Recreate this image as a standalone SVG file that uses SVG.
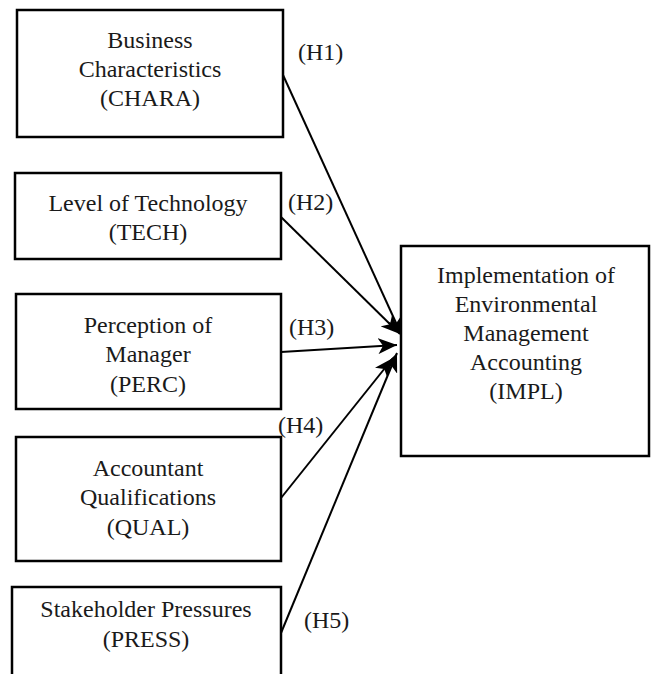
<svg xmlns="http://www.w3.org/2000/svg" width="651" height="674" viewBox="0 0 651 674">
  <style>
    .box { fill: #ffffff; stroke: #000000; stroke-width: 2.5; }
    .lbl { font-family: "Liberation Serif", "Times New Roman", serif; font-size: 24px; fill: #1a1a1a; text-anchor: middle; }
    .hyp { font-family: "Liberation Serif", "Times New Roman", serif; font-size: 24px; fill: #1a1a1a; }
    .edge { stroke: #000000; stroke-width: 2; fill: none; marker-end: url(#arrow); }
  </style>
  <defs>
    <marker id="arrow" markerUnits="userSpaceOnUse" markerWidth="20" markerHeight="16" refX="19" refY="8" orient="auto">
      <path d="M0,0 L19,8 L0,16 L5,8 z" fill="#000000"/>
    </marker>
  </defs>
  <rect width="651" height="674" fill="#ffffff"/>

  <!-- connectors: hypotheses H1..H5 -->
  <g id="connectors">
    <line class="edge" x1="283" y1="75" x2="402" y2="336"/>
    <line class="edge" x1="281" y1="217" x2="400" y2="334"/>
    <line class="edge" x1="281" y1="352" x2="397" y2="345"/>
    <line class="edge" x1="281" y1="498" x2="393" y2="358"/>
    <line class="edge" x1="281" y1="633" x2="397" y2="353"/>
    <text class="hyp" x="298" y="60">(H1)</text>
    <text class="hyp" x="288" y="210">(H2)</text>
    <text class="hyp" x="289" y="335">(H3)</text>
    <text class="hyp" x="278" y="433">(H4)</text>
    <text class="hyp" x="304" y="628">(H5)</text>
  </g>

  <g id="chara">
    <rect class="box" x="17" y="10" width="266" height="127"/>
    <text class="lbl" x="150" y="48">Business</text>
    <text class="lbl" x="150" y="77">Characteristics</text>
    <text class="lbl" x="150" y="106">(CHARA)</text>
  </g>

  <g id="tech">
    <rect class="box" x="15" y="173" width="266" height="86"/>
    <text class="lbl" x="148" y="211">Level of Technology</text>
    <text class="lbl" x="148" y="240">(TECH)</text>
  </g>

  <g id="perc">
    <rect class="box" x="16" y="294" width="265" height="115"/>
    <text class="lbl" x="148" y="333">Perception of</text>
    <text class="lbl" x="148" y="362">Manager</text>
    <text class="lbl" x="148" y="392">(PERC)</text>
  </g>

  <g id="qual">
    <rect class="box" x="16" y="437" width="265" height="124"/>
    <text class="lbl" x="148" y="476">Accountant</text>
    <text class="lbl" x="148" y="505">Qualifications</text>
    <text class="lbl" x="148" y="535">(QUAL)</text>
  </g>

  <g id="press">
    <rect class="box" x="12" y="587" width="269" height="110"/>
    <text class="lbl" x="146" y="617">Stakeholder Pressures</text>
    <text class="lbl" x="146" y="647">(PRESS)</text>
  </g>

  <g id="impl">
    <rect class="box" x="401" y="246" width="248" height="210"/>
    <text class="lbl" x="526" y="283">Implementation of</text>
    <text class="lbl" x="526" y="312">Environmental</text>
    <text class="lbl" x="526" y="341">Management</text>
    <text class="lbl" x="526" y="370">Accounting</text>
    <text class="lbl" x="526" y="399">(IMPL)</text>
  </g>
</svg>
